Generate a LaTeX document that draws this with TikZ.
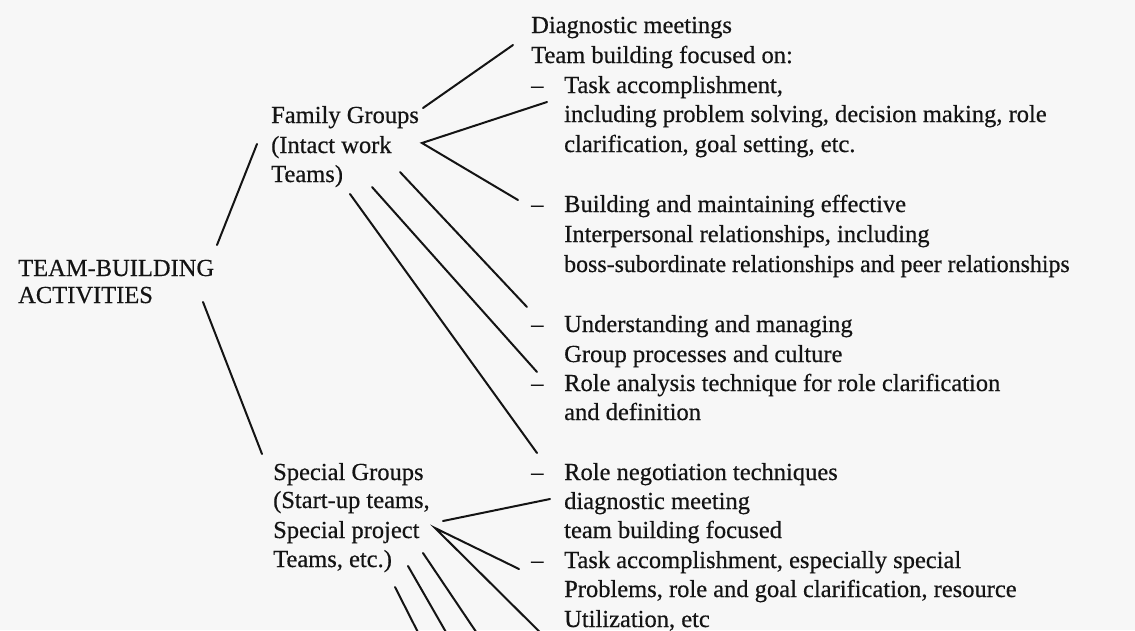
\documentclass[tikz,border=0pt]{standalone}
\usepackage{graphicx}
\usepackage{fontspec}
\setmainfont{Liberation Serif}[RawFeature={embolden=0.5}]
\definecolor{ink}{HTML}{141414}
\definecolor{paper}{HTML}{F7F7F7}
\begin{document}
\begin{tikzpicture}[x=1pt,y=-1pt,
  txt/.style={anchor=base west, inner sep=0pt, text=ink, font=\fontsize{24.5}{29.7}\selectfont},
  conn/.style={draw=ink, line width=2pt, line cap=round}]
\useasboundingbox (0,0) rectangle (1135,630);
\fill[paper] (0,0) rectangle (1135,630);
\clip (0,0) rectangle (1135,630);

% root
\node[txt] (tb1) at (18,276) {TEAM-BUILDING};
\node[txt] (tb2) at (18,303) {ACTIVITIES};

% family groups
\node[txt] (fa1) at (271,123) {Family Groups};
\node[txt] (fa2) at (271,153) {(Intact work};
\node[txt] (fa3) at (271,182) {Teams)};

% special groups
\node[txt] (sp1) at (273,480) {Special Groups};
\node[txt] (sp2) at (273,508) {(Start-up teams,};
\node[txt] (sp3) at (273,538) {Special project};
\node[txt] (sp4) at (273,567) {Teams, etc.)};

% right column
\node[txt] (r01) at (531,33) {Diagnostic meetings};
\node[txt] (r02) at (531,63) {Team building focused on:};
\node[txt] (d03) at (531,93) {--};
\node[txt] (r03) at (564,93) {Task accomplishment,};
\node[txt] (r04) at (564,122) {including problem solving, decision making, role};
\node[txt] (r05) at (564,152) {clarification, goal setting, etc.};
\node[txt] (d06) at (531,212) {--};
\node[txt] (r06) at (564,212) {Building and maintaining effective};
\node[txt] (r07) at (564,242) {Interpersonal relationships, including};
\node[txt] (r08) at (564,272) {\scalebox{0.975}[1]{boss-subordinate relationships and peer relationships}};
\node[txt] (d09) at (531,332) {--};
\node[txt] (r09) at (564,332) {Understanding and managing};
\node[txt] (r10) at (564,362) {Group processes and culture};
\node[txt] (d11) at (531,391) {--};
\node[txt] (r11) at (564,391) {Role analysis technique for role clarification};
\node[txt] (r12) at (564,420) {and definition};
\node[txt] (d13) at (531,480) {--};
\node[txt] (r13) at (564,480) {Role negotiation techniques};
\node[txt] (r14) at (564,509) {diagnostic meeting};
\node[txt] (r15) at (564,538) {team building focused};
\node[txt] (d16) at (531,568) {--};
\node[txt] (r16) at (564,568) {Task accomplishment, especially special};
\node[txt] (r17) at (564,597) {Problems, role and goal clarification, resource};
\node[txt] (r18) at (564,627) {Utilization, etc};

% connector end points
\coordinate (tbA) at (217,245);
\coordinate (faA) at (257,144);
\coordinate (tbB) at (203,302);
\coordinate (spA) at (262,454);
\coordinate (faR) at (423,108);
\coordinate (faS) at (422,143);
\coordinate (faT1) at (400,172);
\coordinate (faT2) at (372,187);
\coordinate (faT3) at (350,194);
\coordinate (e01) at (513,45);
\coordinate (e03) at (547,102);
\coordinate (e06) at (518,200);
\coordinate (e09) at (527,307);
\coordinate (e11) at (537,372);
\coordinate (e13) at (537,453);
\coordinate (spR) at (443,521);
\coordinate (spS) at (435,528);
\coordinate (spU) at (423,553);
\coordinate (spV) at (408,566);
\coordinate (spW) at (395,587);
\coordinate (e14) at (550,499);
\coordinate (e16) at (519,569);
\coordinate (o1) at (568,660);
\coordinate (o2) at (495,660);
\coordinate (o3) at (462,660);
\coordinate (o4) at (432,660);

\draw[conn] (tbA) -- (faA);
\draw[conn] (tbB) -- (spA);
\draw[conn] (faR) -- (e01);
\draw[conn] (e03) -- (faS) -- (e06);
\draw[conn] (faT1) -- (e09);
\draw[conn] (faT2) -- (e11);
\draw[conn] (faT3) -- (e13);
\draw[conn] (spR) -- (e14);
\draw[conn] (e16) -- (spS) -- (o1);
\draw[conn] (spU) -- (o2);
\draw[conn] (spV) -- (o3);
\draw[conn] (spW) -- (o4);
\end{tikzpicture}
\end{document}
